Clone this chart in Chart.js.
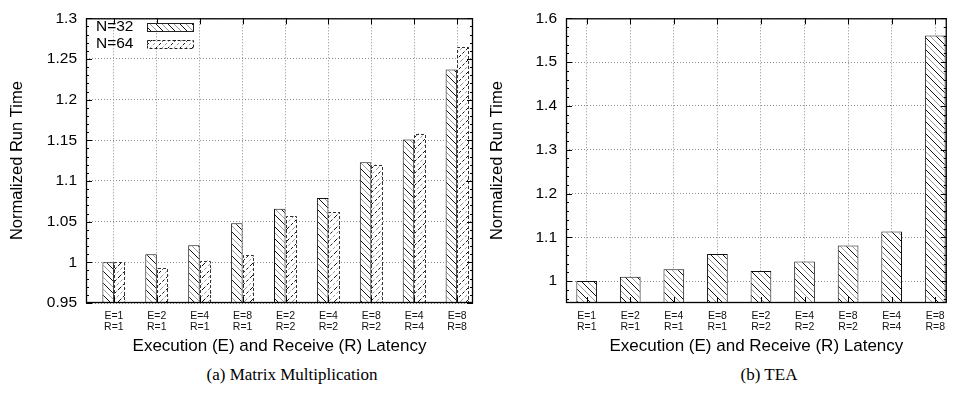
<!DOCTYPE html>
<html>
<head>
<meta charset="utf-8">
<script src="https://cdn.jsdelivr.net/npm/chart.js@4/dist/chart.umd.min.js"></script>
<style>
  html, body { margin: 0; padding: 0; background: #fff; }
  body { width: 953px; height: 394px; overflow: hidden; position: relative; }
  .panel { position: absolute; top: 0; }
  #panelA { left: 0; }
  #panelB { left: 480px; }
  .cap { position: absolute; top: 366px; width: 240px; text-align: center;
         font-family: "Liberation Serif", "Times New Roman", serif; font-size: 17px;
         line-height: 18px; color: #000; }
</style>
</head>
<body>
<div class="panel" id="panelA"><canvas id="chartA" width="476" height="360"></canvas></div>
<div class="panel" id="panelB"><canvas id="chartB" width="473" height="360"></canvas></div>
<div class="cap" style="left:172px">(a) Matrix Multiplication</div>
<div class="cap" style="left:649px">(b) TEA</div>
<script>
// Latency configurations (execution / receive)
const latencyE = ['E=1', 'E=2', 'E=4', 'E=8', 'E=2', 'E=4', 'E=8', 'E=4', 'E=8'];
const latencyR = ['R=1', 'R=1', 'R=1', 'R=1', 'R=2', 'R=2', 'R=2', 'R=4', 'R=8'];

// Matrix multiplication, normalized run time for two problem sizes
const seriesNames = ['N=32', 'N=64'];
const matmulN32 = [1.000, 1.010, 1.021, 1.048, 1.066, 1.079, 1.123, 1.151, 1.237];
const matmulN64 = [1.000, 0.993, 1.002, 1.009, 1.057, 1.062, 1.120, 1.158, 1.265];

// TEA, normalized run time
const teaValues = [1.000, 1.010, 1.027, 1.062, 1.023, 1.045, 1.081, 1.113, 1.561];

// Value-axis tick labels
const matmulYTicks = ['0.95', '1', '1.05', '1.1', '1.15', '1.2', '1.25', '1.3'];
const teaYTicks = ['1', '1.1', '1.2', '1.3', '1.4', '1.5', '1.6'];

const SANS = '"Liberation Sans", Arial, Helvetica, sans-serif';
const NARROW = '"Liberation Sans Narrow", "Liberation Sans", Arial, sans-serif';

// Diagonal hatch fill: alternating dark and light strokes
function hatch(dir, dashed) {
  const s = 12;
  const c = document.createElement('canvas');
  c.width = c.height = s;
  const g = c.getContext('2d');
  g.fillStyle = '#fff';
  g.fillRect(0, 0, s, s);
  g.lineWidth = 1;
  if (dashed) g.setLineDash([3, 2]);
  [['#111', 0], ['#9a9a9a', s / 2]].forEach(([col, off]) => {
    g.strokeStyle = col;
    for (let k = -1; k <= 1; k++) {
      const x0 = k * s + off;
      g.beginPath();
      if (dir === 'back') { g.moveTo(x0, 0); g.lineTo(x0 + s, s); }
      else { g.moveTo(x0 + s, 0); g.lineTo(x0, s); }
      g.stroke();
    }
  });
  return g.createPattern(c, 'repeat');
}

const fillBack = hatch('back', false);
const fillFwdDashed = hatch('fwd', true);

// Frame, inward tick marks, dashed bar outlines and in-plot key
const framePlugin = {
  id: 'frame',
  afterDatasetsDraw(chart, args, opts) {
    const { ctx, chartArea: a, scales: { x, y } } = chart;
    ctx.save();

    // dashed outlines
    (opts.dashedSets || []).forEach(di => {
      const meta = chart.getDatasetMeta(di);
      ctx.strokeStyle = '#333';
      ctx.lineWidth = 1;
      ctx.setLineDash([3, 2]);
      meta.data.forEach(el => {
        const p = el.getProps(['x', 'y', 'base', 'width'], true);
        const b = Math.min(p.base, a.bottom);
        const l = Math.round(p.x - p.width / 2) + 0.5;
        const r = Math.round(p.x + p.width / 2) - 0.5;
        const t = Math.round(p.y) + 0.5;
        ctx.beginPath();
        ctx.moveTo(l, b);
        ctx.lineTo(l, t);
        ctx.lineTo(r, t);
        ctx.lineTo(r, b);
        ctx.stroke();
      });
      ctx.setLineDash([]);
    });

    ctx.strokeStyle = '#000';
    ctx.lineWidth = 1;
    ctx.beginPath();
    // minor ticks on value axis (both sides)
    const n = Math.round((y.max - opts.minorStart) / opts.minorStep);
    for (let k = 0; k <= n; k++) {
      const v = opts.minorStart + k * opts.minorStep;
      const py = Math.round(y.getPixelForValue(v)) + 0.5;
      ctx.moveTo(a.left, py); ctx.lineTo(a.left + 3, py);
      ctx.moveTo(a.right, py); ctx.lineTo(a.right - 3, py);
    }
    // major ticks on value axis
    y.ticks.forEach(t => {
      const py = Math.round(y.getPixelForValue(t.value)) + 0.5;
      ctx.moveTo(a.left, py); ctx.lineTo(a.left + 6, py);
      ctx.moveTo(a.right, py); ctx.lineTo(a.right - 6, py);
    });
    // category ticks top and bottom
    x.ticks.forEach(t => {
      const px = Math.round(x.getPixelForValue(t.value)) + 0.5;
      ctx.moveTo(px, a.top); ctx.lineTo(px, a.top + 6);
      ctx.moveTo(px, a.bottom); ctx.lineTo(px, a.bottom - 6);
    });
    ctx.stroke();

    // frame
    ctx.lineWidth = 1.3;
    ctx.strokeRect(a.left + 0.5, a.top + 0.5, a.right - a.left - 1, a.bottom - a.top - 1);

    // key
    if (opts.key) {
      const k = opts.key;
      ctx.font = '15.5px ' + SANS;
      ctx.textAlign = 'left';
      ctx.textBaseline = 'middle';
      chart.data.datasets.forEach((ds, i) => {
        const cy = k.y + i * k.dy;
        ctx.fillStyle = '#000';
        ctx.fillText(ds.label, k.x, cy);
        ctx.fillStyle = ds.backgroundColor;
        ctx.fillRect(k.boxX, cy - k.boxH / 2, k.boxW, k.boxH);
        ctx.lineWidth = 1;
        ctx.strokeStyle = '#222';
        if (opts.dashedSets && opts.dashedSets.includes(i)) ctx.setLineDash([3, 2]);
        ctx.strokeRect(k.boxX + 0.5, Math.round(cy - k.boxH / 2) + 0.5, k.boxW, k.boxH);
        ctx.setLineDash([]);
      });
    }
    ctx.restore();
  }
};

function buildChart(canvasId, cfg) {
  return new Chart(document.getElementById(canvasId), {
    type: 'bar',
    data: { datasets: cfg.datasets },
    options: {
      responsive: false,
      animation: false,
      layout: { autoPadding: false, padding: { top: 14, right: cfg.padRight, left: 0, bottom: 0 } },
      datasets: { bar: { categoryPercentage: cfg.catPct, barPercentage: 1 } },
      plugins: {
        legend: { display: false },
        tooltip: { enabled: false },
        frame: cfg.frame
      },
      scales: {
        x: {
          type: 'linear',
          offset: false,
          min: cfg.xMin,
          max: cfg.xMax,
          afterBuildTicks: s => { s.ticks = latencyE.map((_, i) => ({ value: i })); },
          afterFit: s => { s.height = 57; },
          grid: { color: '#8c8c8c', lineWidth: 1, drawTicks: false, offset: false },
          border: { display: false, dash: [1, 2] },
          ticks: {
            padding: 8, maxRotation: 0, autoSkip: false, color: '#111',
            font: { family: NARROW, size: 10.5, lineHeight: 1.05 },
            callback: (v, i) => [latencyE[i], latencyR[i]]
          },
          title: {
            display: true, text: 'Execution (E) and Receive (R) Latency', color: '#000',
            font: { family: SANS, size: 17 }, padding: { top: 0, bottom: 3 }
          }
        },
        y: {
          min: cfg.yMin,
          max: cfg.yMax,
          afterBuildTicks: s => { s.ticks = cfg.yTicks.map(t => ({ value: parseFloat(t) })); },
          afterFit: s => { s.width = 86; },
          grid: { color: '#8c8c8c', lineWidth: 1, drawTicks: false },
          border: { display: false, dash: [1, 2] },
          ticks: {
            padding: 9, color: '#000',
            font: { family: SANS, size: 15.5 },
            callback: (v, i) => cfg.yTicks[i]
          },
          title: {
            display: true, text: 'Normalized Run Time', color: '#000',
            font: { family: SANS, size: 16.5 }, padding: { top: 8, bottom: 0 }
          }
        }
      }
    },
    plugins: [framePlugin]
  });
}

const toPoints = arr => arr.map((v, i) => ({ x: i, y: v }));

buildChart('chartA', {
  datasets: [
    { label: seriesNames[0], data: toPoints(matmulN32), backgroundColor: fillBack,
      borderColor: '#111', borderWidth: 1 },
    { label: seriesNames[1], data: toPoints(matmulN64), backgroundColor: fillFwdDashed,
      borderWidth: 0 }
  ],
  catPct: 0.536,
  xMin: -0.65, xMax: 8.37,
  yMin: 0.95, yMax: 1.3,
  yTicks: matmulYTicks,
  padRight: 3,
  frame: {
    minorStart: 0.95, minorStep: 0.01, dashedSets: [1],
    key: { x: 96, y: 27, dy: 17, boxX: 147, boxW: 46, boxH: 8 }
  }
});

buildChart('chartB', {
  datasets: [
    { label: 'TEA', data: toPoints(teaValues), backgroundColor: fillBack,
      borderColor: '#111', borderWidth: 1 }
  ],
  catPct: 0.475,
  xMin: -0.475, xMax: 8.265,
  yMin: 0.95, yMax: 1.6,
  yTicks: teaYTicks,
  padRight: 0,
  frame: { minorStart: 0.96, minorStep: 0.02 }
});
</script>
</body>
</html>
